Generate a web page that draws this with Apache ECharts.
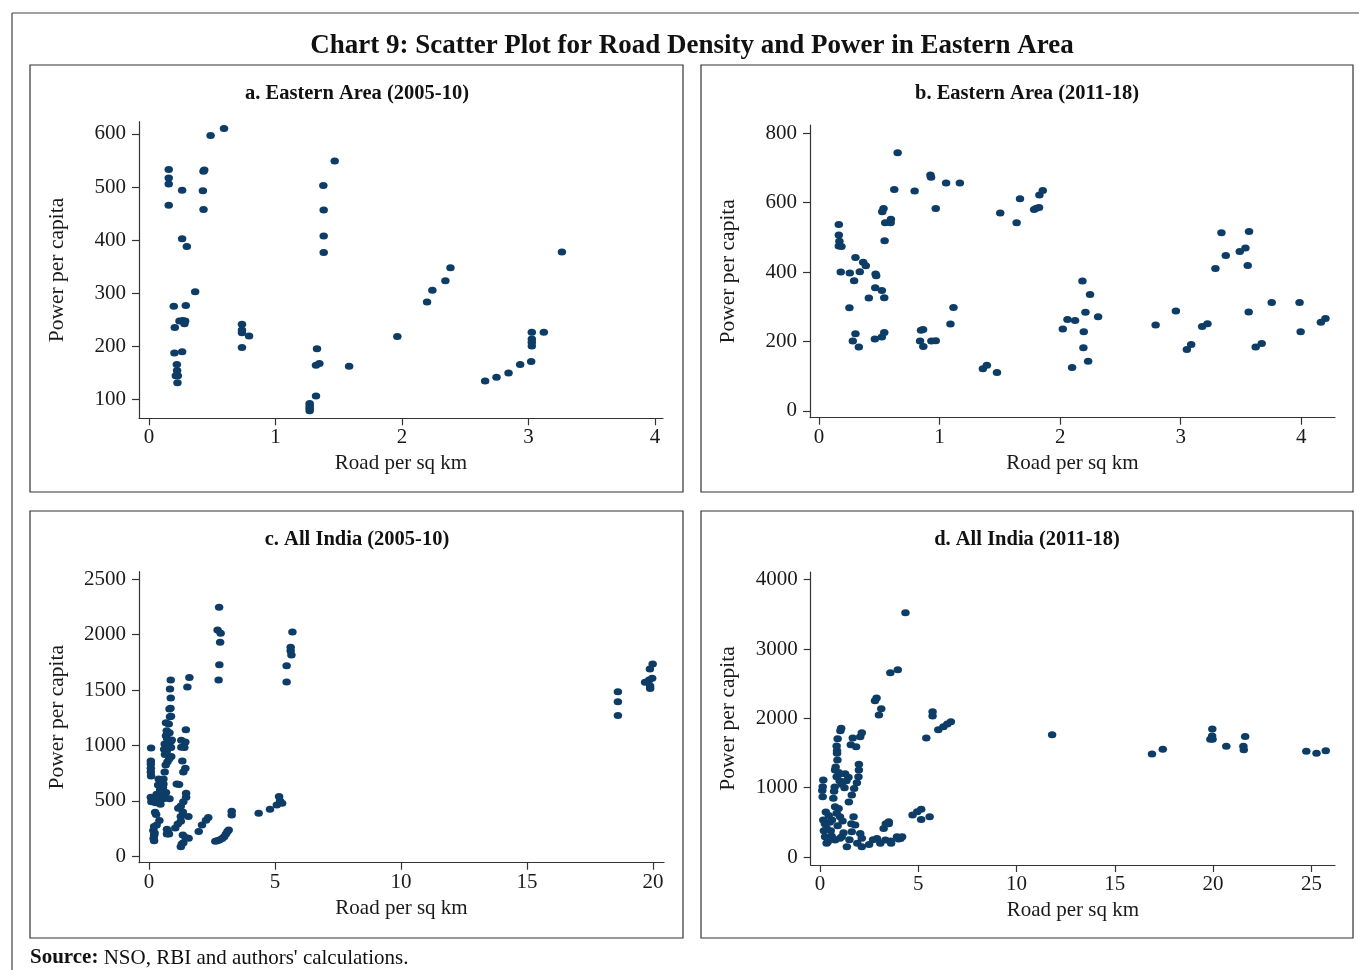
<!DOCTYPE html>
<html>
<head>
<meta charset="utf-8">
<script src="https://cdn.jsdelivr.net/npm/echarts@6/dist/echarts.min.js"></script>
<style>
html,body{margin:0;padding:0;background:#fff;}
#chart{width:1359px;height:970px;}
</style>
</head>
<body>
<div id="chart"></div>
<script>
// ---------- DATA ----------
const mainTitle = 'Chart 9: Scatter Plot for Road Density and Power in Eastern Area';
const panelTitles = ['a. Eastern Area (2005-10)', 'b. Eastern Area (2011-18)', 'c. All India (2005-10)', 'd. All India (2011-18)'];
const xName = 'Road per sq km';
const yName = 'Power per capita';
const sourceText = 'NSO, RBI and authors\' calculations.';

const xTicksA = [0, 1, 2, 3, 4];
const yTicksA = [100, 200, 300, 400, 500, 600];
const xTicksB = [0, 1, 2, 3, 4];
const yTicksB = [0, 200, 400, 600, 800];
const xTicksC = [0, 5, 10, 15, 20];
const yTicksC = [0, 500, 1000, 1500, 2000, 2500];
const xTicksD = [0, 5, 10, 15, 20, 25];
const yTicksD = [0, 1000, 2000, 3000, 4000];

// [road per sq km, power per capita]
const eastern0510 = [
  [0.156,533],[0.156,517],[0.156,506],[0.156,466],[0.262,494],[0.262,403],[0.299,388],
  [0.431,530],[0.437,532],[0.426,493],[0.431,458],[0.487,597],[0.593,610],[0.365,303],
  [0.196,276],[0.291,277],[0.241,248],[0.267,249],[0.286,248],[0.280,243],[0.204,236],
  [0.201,188],[0.262,190],[0.220,166],[0.222,155],[0.212,145],[0.228,145],[0.225,132],
  [0.735,242],[0.735,231],[0.735,226],[0.791,220],[0.735,198],
  [1.27,93],[1.27,88],[1.27,84],[1.27,79],[1.32,107],[1.328,196],[1.32,165],[1.347,168],
  [1.582,163],[1.378,503],[1.381,457],[1.381,408],[1.381,377],[1.468,549],[1.963,219],
  [2.198,284],[2.24,306],[2.343,324],[2.383,348],
  [2.657,135],[2.747,142],[2.842,150],[2.934,166],[3.021,172],
  [3.026,227],[3.026,214],[3.026,208],[3.026,201],[3.121,227],[3.264,378]
];

const eastern1118 = [
  [0.652,744],[0.924,680],[0.929,673],[1.054,657],[1.168,657],[0.624,638],[0.793,634],
  [0.968,583],[0.535,583],[0.524,574],[0.549,542],[0.596,552],[0.594,542],[0.544,490],
  [0.164,537],[0.164,507],[0.169,489],[0.164,475],[0.186,474],[0.302,442],[0.366,428],
  [0.388,418],[0.180,400],[0.255,397],[0.338,401],[0.291,375],[0.469,394],[0.474,389],
  [0.466,355],[0.521,347],[0.413,325],[0.541,326],[0.252,297],[0.302,222],[0.280,201],
  [0.330,184],[0.463,207],[0.521,213],[0.541,226],[0.838,201],[0.846,232],[0.863,234],
  [0.865,185],[0.932,201],[0.968,202],[1.09,250],[1.115,298],[1.359,121],[1.392,131],
  [1.476,110],[1.503,570],[1.639,542],[1.667,611],[1.784,580],[1.803,584],[1.825,586],
  [1.828,622],[1.856,635],
  [2.022,236],[2.061,263],[2.124,260],[2.185,374],[2.248,335],[2.210,284],[2.315,271],
  [2.196,228],[2.193,182],[2.232,143],[2.099,125],[2.792,247],[2.960,288],[3.087,191],
  [3.051,177],[3.178,243],[3.222,251],[3.288,410],[3.338,513],[3.374,448],[3.490,459],
  [3.537,469],[3.567,517],[3.556,419],[3.564,285],[3.622,184],[3.672,194],[3.755,312],
  [3.986,312],[3.995,228],[4.163,255],[4.201,266]
];

const india0510 = [
  [2.78,2247],[2.72,2043],[2.84,2013],[2.82,1931],[2.79,1730],[2.76,1591],
  [5.69,2025],[5.62,1886],[5.62,1856],[5.65,1817],[5.46,1721],[5.46,1573],
  [18.61,1486],[18.61,1396],[18.61,1270],[19.99,1736],[19.88,1691],[19.97,1607],
  [19.85,1592],[19.69,1571],[19.89,1538],[19.89,1514],
  [1.60,1615],[1.52,1528],
  [0.86,1591],[0.83,1510],[0.86,1429],[0.81,1330],[0.85,1336],[0.83,1259],[0.87,1265],
  [0.67,1206],[0.78,1194],[0.70,1134],[0.81,1116],[0.67,1089],[0.85,1035],[0.62,1014],
  [0.81,981],[0.60,966],[0.70,945],[0.87,981],[0.63,918],[0.73,854],[0.66,824],[0.62,761],
  [0.75,1000],[0.90,1050],[0.72,1060],[0.88,900],[0.80,880],
  [1.46,1143],[1.28,1047],[1.44,1032],[1.28,984],[1.40,981],[1.32,860],[1.44,794],[1.36,761],
  [0.08,978],[0.07,860],[0.07,833],[0.07,794],[0.07,761],[0.08,725],
  [0.38,698],[0.57,698],[0.36,644],[0.57,653],[0.44,599],[0.50,584],[0.67,575],[0.07,532],
  [0.22,532],[0.41,532],[0.57,520],[0.81,520],[0.09,493],[0.26,484],[0.45,469],[0.30,560],
  [0.55,620],[0.48,670],[0.62,545],[0.35,510],
  [1.10,653],[1.19,647],[1.47,569],[1.47,532],[1.36,493],[1.26,454],[1.16,433],[1.34,400],
  [1.26,358],[1.56,358],
  [0.24,397],[0.28,376],[0.41,322],[0.30,283],[0.20,268],[0.17,232],[0.20,190],[0.20,141],
  [0.22,210],[0.18,160],[0.71,244],[0.79,202],[0.71,202],[0.75,220],[1.04,256],[1.14,292],
  [1.26,316],[1.34,193],[1.26,87],[1.57,162],[1.36,123],[1.30,110],[1.45,170],
  [1.97,223],[2.10,283],[2.26,325],[2.35,349],[2.63,135],[2.79,147],[2.98,177],[3.11,223],
  [3.16,238],[2.70,140],[2.90,160],[3.05,200],[3.28,406],[3.28,373],[4.35,388],[4.80,424],
  [5.07,463],[5.16,539],[5.28,478],[5.20,500]
];

const india1118 = [
  [4.35,3524],[3.58,2659],[3.96,2702],[2.80,2255],[2.88,2293],[3.12,2139],[3.00,2048],
  [5.73,2096],[5.73,2034],[5.41,1716],[6.02,1837],[6.28,1880],[6.48,1918],[6.66,1952],
  [11.81,1764],[16.89,1486],[17.44,1553],[19.96,1846],[19.95,1745],[19.97,1697],[19.86,1697],
  [20.67,1596],[21.63,1740],[21.54,1596],[21.56,1548],[24.74,1524],[25.26,1495],[25.73,1534],
  [1.08,1856],[1.04,1822],[0.90,1707],[0.87,1534],[0.87,1495],[0.89,1399],[0.85,1600],[0.80,1300],
  [1.67,1716],[1.57,1620],[1.84,1591],[2.05,1736],[2.13,1793],
  [1.98,1337],[1.98,1255],[1.96,1159],[1.88,1072],[1.74,990],[1.62,894],[1.47,793],
  [0.77,1255],[0.85,1159],[1.02,1200],[1.28,1200],[1.45,1150],[1.00,1100],[0.75,1010],
  [0.72,950],[1.10,1050],[1.25,1000],[1.35,1100],[0.95,1220],
  [0.17,1111],[0.14,1014],[0.14,870],[0.12,960],
  [0.68,846],[0.77,726],[0.85,630],[1.02,582],[0.61,534],[0.17,534],[0.34,414],[0.26,293],
  [0.34,197],[0.77,245],[1.02,270],[1.11,294],[1.37,149],[1.71,582],[1.79,462],[1.62,365],
  [2.05,341],[2.13,270],[2.13,149],[0.25,480],[0.45,600],[0.55,380],[0.90,450],[1.20,350],
  [0.40,220],[0.60,300],[1.50,250],[1.90,200],[0.20,380],[0.50,500],[0.95,700],[1.15,520],
  [0.30,650],[1.60,480],
  [2.90,269],[3.07,197],[3.33,245],[3.50,510],[3.24,413],[3.62,197],[3.92,293],[4.10,269],
  [4.18,293],[3.50,480],[3.35,480],[3.60,230],[4.00,260],[2.70,250],[2.50,180],
  [4.71,606],[4.95,654],[5.15,688],[5.15,543],[5.58,582]
];

// ---------- CHART ----------
const serif = '"Liberation Serif", "DejaVu Serif", serif';
const dotColor = '#0d3d67';
const axisColor = '#333';
const textColor = '#1a1a1a';

const panels = [
  {data: eastern0510, xt: xTicksA, yt: yTicksA, xr: [-0.079, 4.063], yr: [65, 623],
   grid: {left: 139, top: 121.7, width: 524, height: 296.6}},
  {data: eastern1118, xt: xTicksB, yt: yTicksB, xr: [-0.075, 4.28], yr: [-20, 824],
   grid: {left: 810, top: 125, width: 525, height: 292.7}},
  {data: india0510, xt: xTicksC, yt: yTicksC, xr: [-0.4, 20.44], yr: [-58, 2569],
   grid: {left: 139, top: 571.7, width: 525, height: 291}},
  {data: india1118, xt: xTicksD, yt: yTicksD, xr: [-0.47, 26.2], yr: [-115, 4111],
   grid: {left: 810.7, top: 572, width: 524.3, height: 293}}
];

const plain = v => String(v);
const grids = [], xAxes = [], yAxes = [], series = [];
panels.forEach((p, i) => {
  grids.push(Object.assign({containLabel: false}, p.grid));
  xAxes.push({
    type: 'value', gridIndex: i, min: p.xr[0], max: p.xr[1],
    name: xName, nameLocation: 'middle', nameGap: 35,
    nameTextStyle: {fontFamily: serif, fontSize: 21, color: textColor},
    axisLine: {show: true, onZero: false, lineStyle: {color: axisColor, width: 1.2}},
    axisTick: {show: true, length: 7, customValues: p.xt, lineStyle: {color: axisColor, width: 1.2}},
    axisLabel: {customValues: p.xt, formatter: plain, fontFamily: serif, fontSize: 21, color: textColor, margin: 9},
    splitLine: {show: false}
  });
  yAxes.push({
    type: 'value', gridIndex: i, min: p.yr[0], max: p.yr[1],
    name: yName, nameLocation: 'middle', nameGap: 71,
    nameTextStyle: {fontFamily: serif, fontSize: 21.5, color: textColor},
    axisLine: {show: true, onZero: false, lineStyle: {color: axisColor, width: 1.2}},
    axisTick: {show: true, length: 7, customValues: p.yt, lineStyle: {color: axisColor, width: 1.2}},
    axisLabel: {customValues: p.yt, formatter: plain, fontFamily: serif, fontSize: 21, color: textColor, margin: 13},
    splitLine: {show: false}
  });
  series.push({
    type: 'scatter', xAxisIndex: i, yAxisIndex: i, data: p.data,
    symbol: 'circle', symbolSize: [8.5, 7],
    itemStyle: {color: dotColor, opacity: 1},
    silent: true, animation: false
  });
});

const frames = [
  [30, 65, 653, 427], [701, 65, 652, 427], [30, 511, 653, 427], [701, 511, 652, 427]
];
const graphics = [];
graphics.push({type: 'line', shape: {x1: 12, y1: 13, x2: 1359, y2: 13}, style: {stroke: '#444', lineWidth: 1.2}, silent: true});
graphics.push({type: 'line', shape: {x1: 12, y1: 13, x2: 12, y2: 970}, style: {stroke: '#444', lineWidth: 1.2}, silent: true});
frames.forEach(f => {
  graphics.push({type: 'rect', shape: {x: f[0], y: f[1], width: f[2], height: f[3]},
    style: {fill: 'none', stroke: '#333', lineWidth: 1.2}, silent: true});
});
graphics.push({type: 'text', x: 692, y: 46, silent: true,
  style: {text: mainTitle, textAlign: 'center', textVerticalAlign: 'middle',
    font: 'bold 27px ' + serif, fill: '#111'}});
const subPos = [[357, 94], [1027, 94], [357, 540], [1027, 540]];
panelTitles.forEach((t, i) => {
  graphics.push({type: 'text', x: subPos[i][0], y: subPos[i][1], silent: true,
    style: {text: t, textAlign: 'center', textVerticalAlign: 'middle',
      font: 'bold 20.5px ' + serif, fill: '#111'}});
});
graphics.push({type: 'text', x: 30, y: 958, silent: true,
  style: {text: '{b|Source:} ' + sourceText, textAlign: 'left', textVerticalAlign: 'middle',
    font: '21px ' + serif, fill: '#111',
    rich: {b: {fontWeight: 'bold', fontFamily: serif, fontSize: 21, fill: '#111'}}}});

const chart = echarts.init(document.getElementById('chart'), null, {renderer: 'canvas'});
chart.setOption({
  animation: false,
  backgroundColor: '#fff',
  grid: grids,
  xAxis: xAxes,
  yAxis: yAxes,
  series: series,
  graphic: graphics
});
</script>
</body>
</html>
